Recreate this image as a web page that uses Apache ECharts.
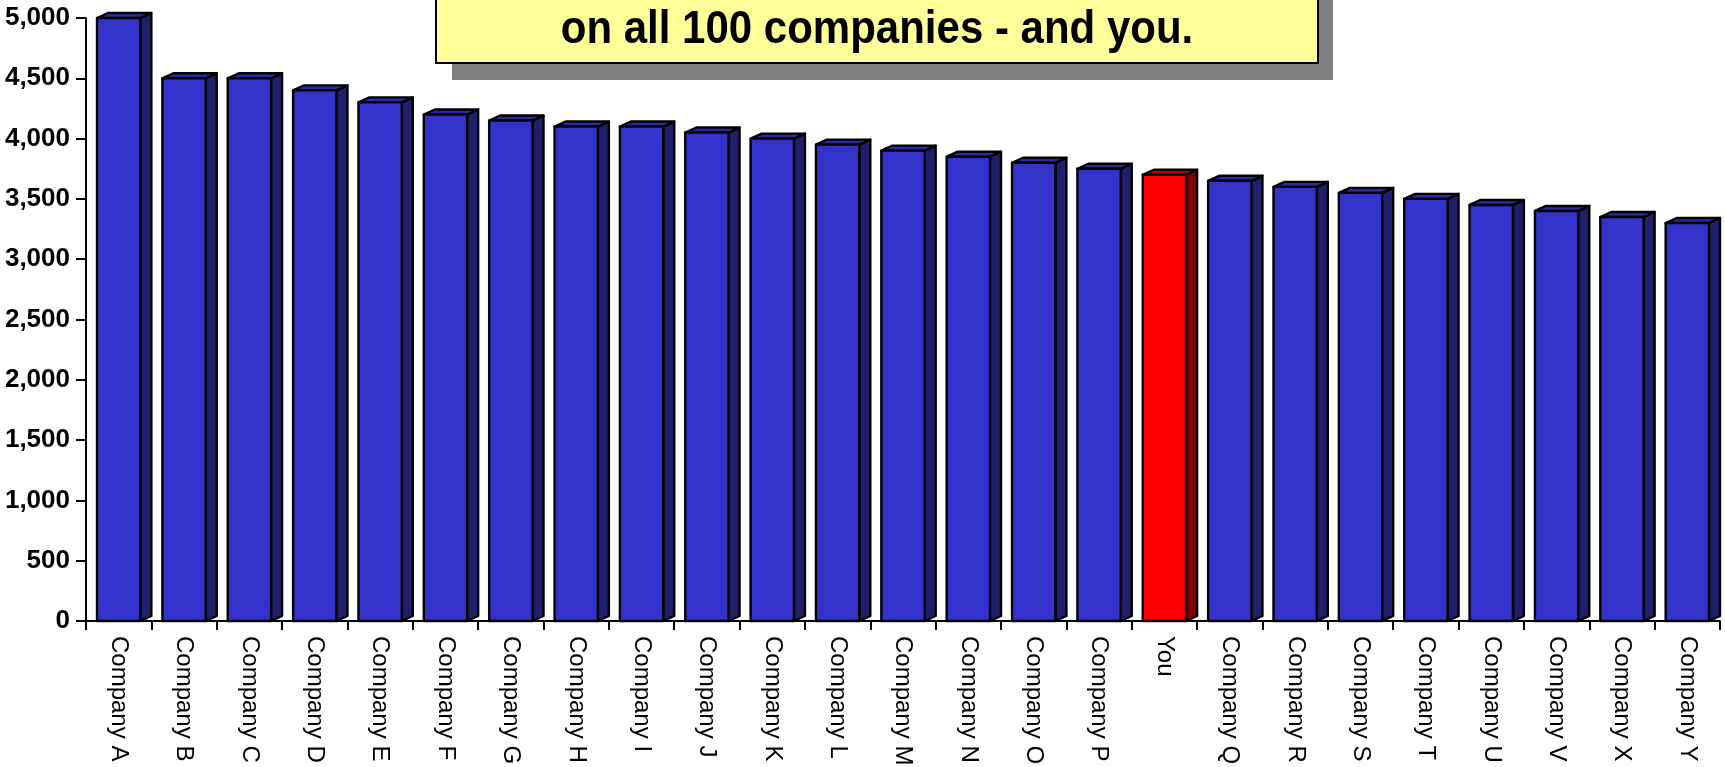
<!DOCTYPE html>
<html>
<head>
<meta charset="utf-8">
<script src="https://cdn.jsdelivr.net/npm/echarts@6/dist/echarts.min.js"></script>
<style>
  html, body { margin: 0; padding: 0; background: #fff; }
  #chart { width: 1725px; height: 767px; }
</style>
</head>
<body>
<div id="chart"></div>
<script>
// Companies in ranked order, with your own result marked "You"
const categories = [
  'Company A', 'Company B', 'Company C', 'Company D', 'Company E', 'Company F',
  'Company G', 'Company H', 'Company I', 'Company J', 'Company K', 'Company L',
  'Company M', 'Company N', 'Company O', 'Company P', 'You', 'Company Q',
  'Company R', 'Company S', 'Company T', 'Company U', 'Company V', 'Company X',
  'Company Y'
];
const values = [
  5000, 4500, 4500, 4400, 4300, 4200, 4150, 4100, 4100, 4050, 4000, 3950,
  3900, 3850, 3800, 3750, 3700, 3650, 3600, 3550, 3500, 3450, 3400, 3350,
  3300
];
const highlighted = 'You';
const titleText = 'on all 100 companies - and you.';

// Face colours for the boxed bars: front, side, top
const blueFaces = { front: '#3333CC', side: '#1F1F6B', top: '#2B2BA8' };
const redFaces = { front: '#FF0000', side: '#800000', top: '#C00000' };

const DEPTH_X = 11;
const DEPTH_Y = 5;

function renderBox(params, api) {
  const idx = api.value(0);
  const val = api.value(1);
  const top = api.coord([idx, val]);
  const base = api.coord([idx, 0]);
  const bw = api.size([1, 0])[0] * 0.663;
  const x0 = top[0] - bw / 2;
  const x1 = top[0] + bw / 2;
  const yT = top[1];
  const yB = base[1];
  const faces = categories[idx] === highlighted ? redFaces : blueFaces;
  const edge = { stroke: '#000', lineWidth: 2.4, lineJoin: 'round' };
  return {
    type: 'group',
    children: [
      {
        type: 'polygon',
        shape: { points: [[x1, yT], [x1 + DEPTH_X, yT - DEPTH_Y], [x1 + DEPTH_X, yB - DEPTH_Y], [x1, yB]] },
        style: Object.assign({ fill: faces.side }, edge)
      },
      {
        type: 'polygon',
        shape: { points: [[x0, yT], [x0 + DEPTH_X, yT - DEPTH_Y], [x1 + DEPTH_X, yT - DEPTH_Y], [x1, yT]] },
        style: Object.assign({ fill: faces.top }, edge)
      },
      {
        type: 'rect',
        shape: { x: x0, y: yT, width: bw, height: yB - yT },
        style: Object.assign({ fill: faces.front }, edge)
      }
    ]
  };
}

const chart = echarts.init(document.getElementById('chart'), null, { renderer: 'canvas' });

chart.setOption({
  backgroundColor: '#ffffff',
  animation: false,
  grid: { left: 86, right: 5, top: 18, bottom: 146, containLabel: false, outerBoundsMode: 'none' },
  xAxis: {
    type: 'category',
    data: categories,
    boundaryGap: true,
    axisLine: { show: true, lineStyle: { color: '#000', width: 2 } },
    axisTick: { show: true, length: 9, alignWithLabel: false, lineStyle: { color: '#000', width: 2 } },
    axisLabel: {
      interval: 0,
      rotate: -90,
      margin: 15,
      color: '#000',
      fontFamily: '"Liberation Sans", Arial, sans-serif',
      fontSize: 24
    },
    splitLine: { show: false }
  },
  yAxis: {
    type: 'value',
    min: 0,
    max: 5000,
    interval: 500,
    axisLine: { show: true, lineStyle: { color: '#000', width: 2 } },
    axisTick: { show: true, inside: false, length: 10, lineStyle: { color: '#000', width: 2 } },
    axisLabel: {
      margin: 16,
      color: '#000',
      fontFamily: '"Liberation Sans", Arial, sans-serif',
      fontWeight: 'bold',
      fontSize: 26,
      formatter: function (v) { return v.toLocaleString('en-US'); }
    },
    splitLine: { show: false }
  },
  series: [{
    type: 'custom',
    renderItem: renderBox,
    encode: { x: 0, y: 1 },
    data: values.map(function (v, i) { return [i, v]; }),
    z: 1
  }],
  graphic: [
    {
      type: 'rect',
      shape: { x: 452, y: -30, width: 881, height: 110 },
      style: { fill: '#808080' },
      z: 10
    },
    {
      type: 'rect',
      shape: { x: 436, y: -30, width: 882, height: 93 },
      style: { fill: '#FFFF99', stroke: '#000', lineWidth: 2 },
      z: 11
    },
    {
      type: 'text',
      x: 877,
      y: 53,
      scaleY: 1.1,
      style: {
        text: titleText,
        x: 0,
        y: 0,
        textAlign: 'center',
        textVerticalAlign: 'bottom',
        fill: '#000',
        font: 'bold 42px "Liberation Sans", Arial, sans-serif'
      },
      z: 12
    }
  ]
});
</script>
</body>
</html>
